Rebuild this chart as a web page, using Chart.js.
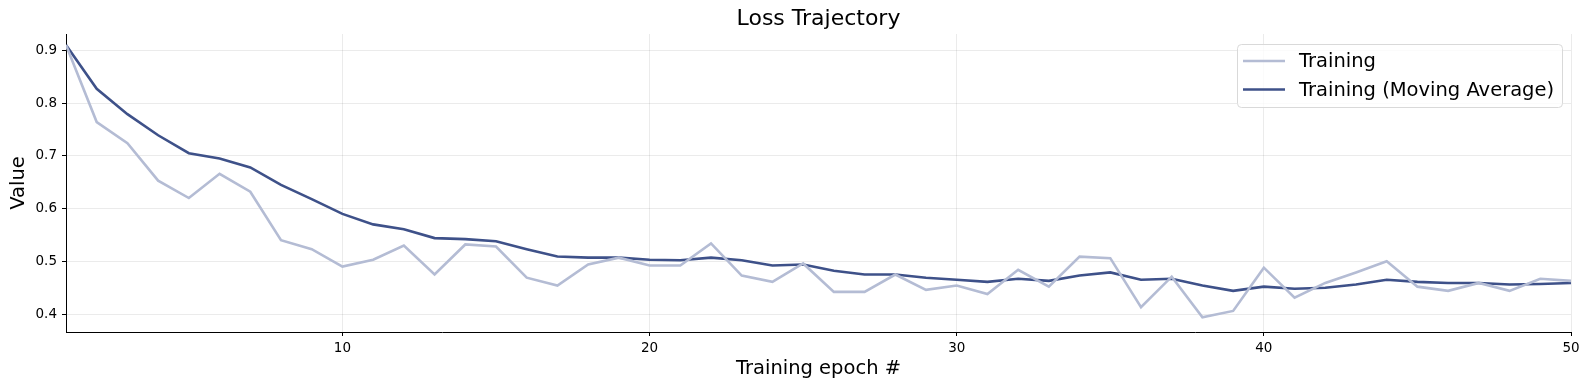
<!DOCTYPE html>
<html>
<head>
<meta charset="utf-8">
<script src="https://cdn.jsdelivr.net/npm/chart.js@4.4.1/dist/chart.umd.min.js"></script>
<style>
  html, body { margin: 0; padding: 0; background: #fff; }
  #wrap { width: 1590px; height: 390px; }
</style>
</head>
<body>
<div id="wrap"><canvas id="lossChart" width="1590" height="390"></canvas></div>
<script>
const EPOCHS = [1, 2, 3, 4, 5, 6, 7, 8, 9, 10, 11, 12, 13, 14, 15, 16, 17, 18, 19, 20,
  21, 22, 23, 24, 25, 26, 27, 28, 29, 30, 31, 32, 33, 34, 35, 36, 37, 38, 39, 40,
  41, 42, 43, 44, 45, 46, 47, 48, 49, 50];

const TRAINING = [0.910, 0.764, 0.724, 0.653, 0.620, 0.666, 0.632, 0.540, 0.523, 0.490,
  0.503, 0.530, 0.475, 0.532, 0.528, 0.469, 0.454, 0.494, 0.507, 0.492,
  0.492, 0.534, 0.473, 0.461, 0.496, 0.442, 0.442, 0.475, 0.446, 0.454,
  0.438, 0.484, 0.452, 0.509, 0.506, 0.413, 0.471, 0.394, 0.406, 0.488,
  0.431, 0.459, 0.479, 0.500, 0.452, 0.444, 0.459, 0.444, 0.467, 0.463];

const TRAINING_MA = [0.910, 0.827, 0.779, 0.739, 0.705, 0.695, 0.678, 0.645, 0.618, 0.590,
  0.570, 0.561, 0.544, 0.542, 0.538, 0.523, 0.509, 0.507, 0.507, 0.503,
  0.502, 0.507, 0.502, 0.492, 0.494, 0.482, 0.475, 0.475, 0.469, 0.465,
  0.461, 0.467, 0.463, 0.473, 0.479, 0.465, 0.467, 0.454, 0.444, 0.452,
  0.448, 0.450, 0.456, 0.465, 0.461, 0.459, 0.459, 0.456, 0.457, 0.459];

const X_TICKS = [10, 20, 30, 40, 50];
const Y_TICKS = [0.4, 0.5, 0.6, 0.7, 0.8, 0.9];

const FONT = "'DejaVu Sans', sans-serif";
const LIGHT = "#b4bcd4";
const DARK = "#3e5189";

// title centred over the plot area, matplotlib style
const titlePlugin = {
  id: "plotTitle",
  afterDraw(chart) {
    const { ctx, chartArea } = chart;
    ctx.save();
    ctx.font = "22px " + FONT;
    ctx.fillStyle = "#000";
    ctx.textAlign = "center";
    ctx.textBaseline = "middle";
    ctx.fillText("Loss Trajectory", (chartArea.left + chartArea.right) / 2, 19);
    ctx.restore();
  },
};

// legend drawn inside the axes, upper right
const boxLegend = {
  id: "boxLegend",
  afterDraw(chart) {
    const { ctx, chartArea } = chart;
    const x1 = chartArea.right - 9, x0 = x1 - 325;
    const y0 = chartArea.top + 10, y1 = y0 + 63;
    ctx.save();
    ctx.beginPath();
    ctx.roundRect(x0 + 0.5, y0 + 0.5, x1 - x0, y1 - y0, 4);
    ctx.fillStyle = "rgba(255,255,255,0.8)";
    ctx.fill();
    ctx.strokeStyle = "#d9d9d9";
    ctx.lineWidth = 1;
    ctx.stroke();
    ctx.font = "19.5px " + FONT;
    ctx.textBaseline = "middle";
    chart.data.datasets.forEach((ds, i) => {
      const y = y0 + 17 + i * 28.5;
      ctx.beginPath();
      ctx.moveTo(x0 + 6, y);
      ctx.lineTo(x0 + 48, y);
      ctx.strokeStyle = ds.borderColor;
      ctx.lineWidth = 2.6;
      ctx.stroke();
      ctx.fillStyle = "#000";
      ctx.fillText(ds.label, x0 + 62, y + 1);
    });
    ctx.restore();
  },
};

new Chart(document.getElementById("lossChart"), {
  type: "line",
  data: {
    datasets: [
      {
        label: "Training",
        data: EPOCHS.map((e, i) => ({ x: e, y: TRAINING[i] })),
        borderColor: LIGHT,
        borderWidth: 2.6,
        pointRadius: 0,
        tension: 0,
      },
      {
        label: "Training (Moving Average)",
        data: EPOCHS.map((e, i) => ({ x: e, y: TRAINING_MA[i] })),
        borderColor: DARK,
        borderWidth: 2.6,
        pointRadius: 0,
        tension: 0,
      },
    ],
  },
  options: {
    responsive: false,
    animation: false,
    layout: { padding: { top: 34, right: 19, left: 0, bottom: 0 } },
    plugins: { legend: { display: false }, title: { display: false }, tooltip: { enabled: false } },
    scales: {
      x: {
        type: "linear",
        min: 1,
        max: 50,
        afterBuildTicks: (s) => { s.ticks = X_TICKS.map((v) => ({ value: v })); },
        afterFit: (s) => { s.height = 58; },
        ticks: { color: "#000", font: { family: FONT, size: 13.5 }, padding: 4, maxRotation: 0 },
        grid: { color: "rgba(0,0,0,0.08)", tickColor: "#000", tickLength: 4, lineWidth: 1 },
        border: { display: true, color: "#000", width: 1 },
        title: { display: true, text: "Training epoch #", color: "#000", font: { family: FONT, size: 19.5 }, padding: { top: 0, bottom: 9 } },
      },
      y: {
        min: 0.366,
        max: 0.931,
        afterBuildTicks: (s) => { s.ticks = Y_TICKS.map((v) => ({ value: v })); },
        afterFit: (s) => { s.width = 66; },
        ticks: { color: "#000", font: { family: FONT, size: 13.5 }, padding: 5, callback: (v) => v.toFixed(1) },
        grid: { color: "rgba(0,0,0,0.08)", tickColor: "#000", tickLength: 4, lineWidth: 1 },
        border: { display: true, color: "#000", width: 1 },
        title: { display: true, text: "Value", color: "#000", font: { family: FONT, size: 19.5 }, padding: { top: 7, bottom: 0 } },
      },
    },
  },
  plugins: [titlePlugin, boxLegend],
});
</script>
</body>
</html>
